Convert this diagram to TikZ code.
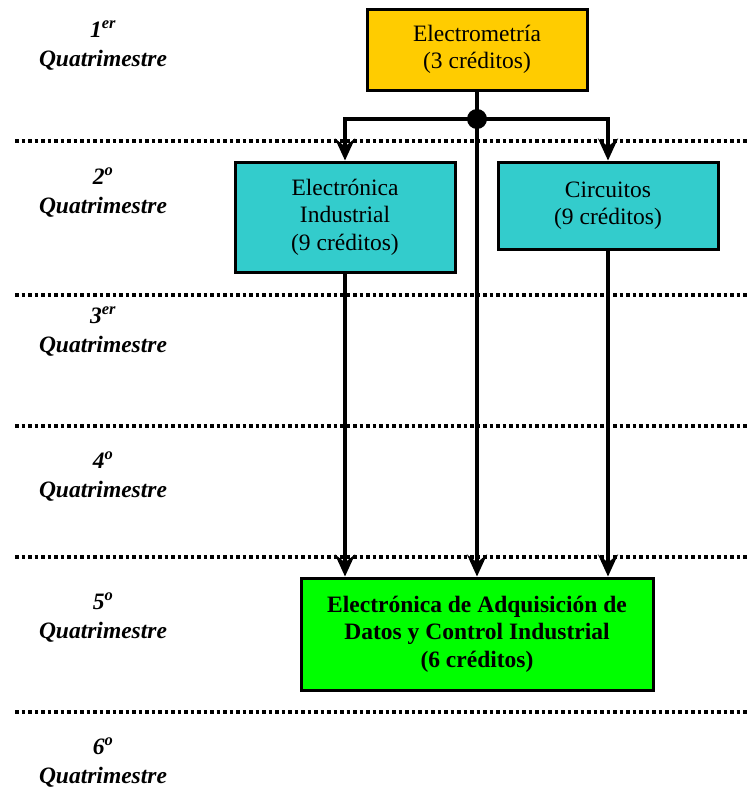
\documentclass[tikz,border=0pt]{standalone}
\usepackage{fontspec}
\setmainfont{Liberation Serif}
\usetikzlibrary{arrows.meta}
\definecolor{gold}{HTML}{FFCC00}
\definecolor{teal1}{HTML}{33CCCC}
\definecolor{green1}{HTML}{00FF00}
\tikzset{
  course/.style={draw=black, line width=3pt, align=center, font=\fontsize{23.5}{27.5}\selectfont, inner sep=0pt},
  sep/.style={line width=3.5pt, dash pattern=on 3.5pt off 3pt},
  conn/.style={line width=3.5pt, -{Stealth[length=22pt,width=20pt,inset=8pt]}},
  plain/.style={line width=3.5pt},
  qlabel/.style={align=center, font=\fontsize{23.5}{29}\selectfont\bfseries\itshape},
}
\begin{document}
\begin{tikzpicture}[x=1pt,y=-1pt]
\useasboundingbox (0,0) rectangle (748,790);
% separators
\foreach \yy/\nm in {141/s1,295/s2,426/s3,557/s4,712/s5}{
  \draw[sep] (15,\yy) -- (748,\yy);
}
% labels
\node[qlabel] (q1) at (103,46) {1\textsuperscript{er}\\Quatrimestre};
\node[qlabel] (q2) at (103,193) {2\textsuperscript{o}\\Quatrimestre};
\node[qlabel] (q3) at (103,332) {3\textsuperscript{er}\\Quatrimestre};
\node[qlabel] (q4) at (103,477) {4\textsuperscript{o}\\Quatrimestre};
\node[qlabel] (q5) at (103,618) {5\textsuperscript{o}\\Quatrimestre};
\node[qlabel] (q6) at (103,763) {6\textsuperscript{o}\\Quatrimestre};
% boxes
\node[course, fill=gold, minimum width=220pt, minimum height=81pt] (em) at (477,49.5) {Electrometría\\(3 créditos)};
\node[course, fill=teal1, minimum width=220pt, minimum height=110pt] (ei) at (345,217) {Electrónica\\Industrial\\(9 créditos)};
\node[course, fill=teal1, minimum width=220pt, minimum height=87pt] (ci) at (608,205.5) {Circuitos\\(9 créditos)};
\node[course, fill=green1, minimum width=352pt, minimum height=112pt, font=\fontsize{23.5}{27.5}\selectfont\bfseries] (ed) at (477,634) {Electrónica de Adquisición de\\Datos y Control Industrial\\(6 créditos)};
% junction
\coordinate (j) at (477,119);
\coordinate (jl) at (345,119);
\coordinate (jr) at (608,119);
\draw[plain] (em.south) -- (j);
\draw[conn] (j) -- (jl) -- (ei.north);
\draw[conn] (j) -- (jr) -- (ci.north);
\draw[conn] (j) -- (ed.north);
\fill (j) circle (10pt);
\draw[conn] (ei.south) -- (ei.south |- ed.north);
\draw[conn] (ci.south) -- (ci.south |- ed.north);
\end{tikzpicture}
\end{document}
